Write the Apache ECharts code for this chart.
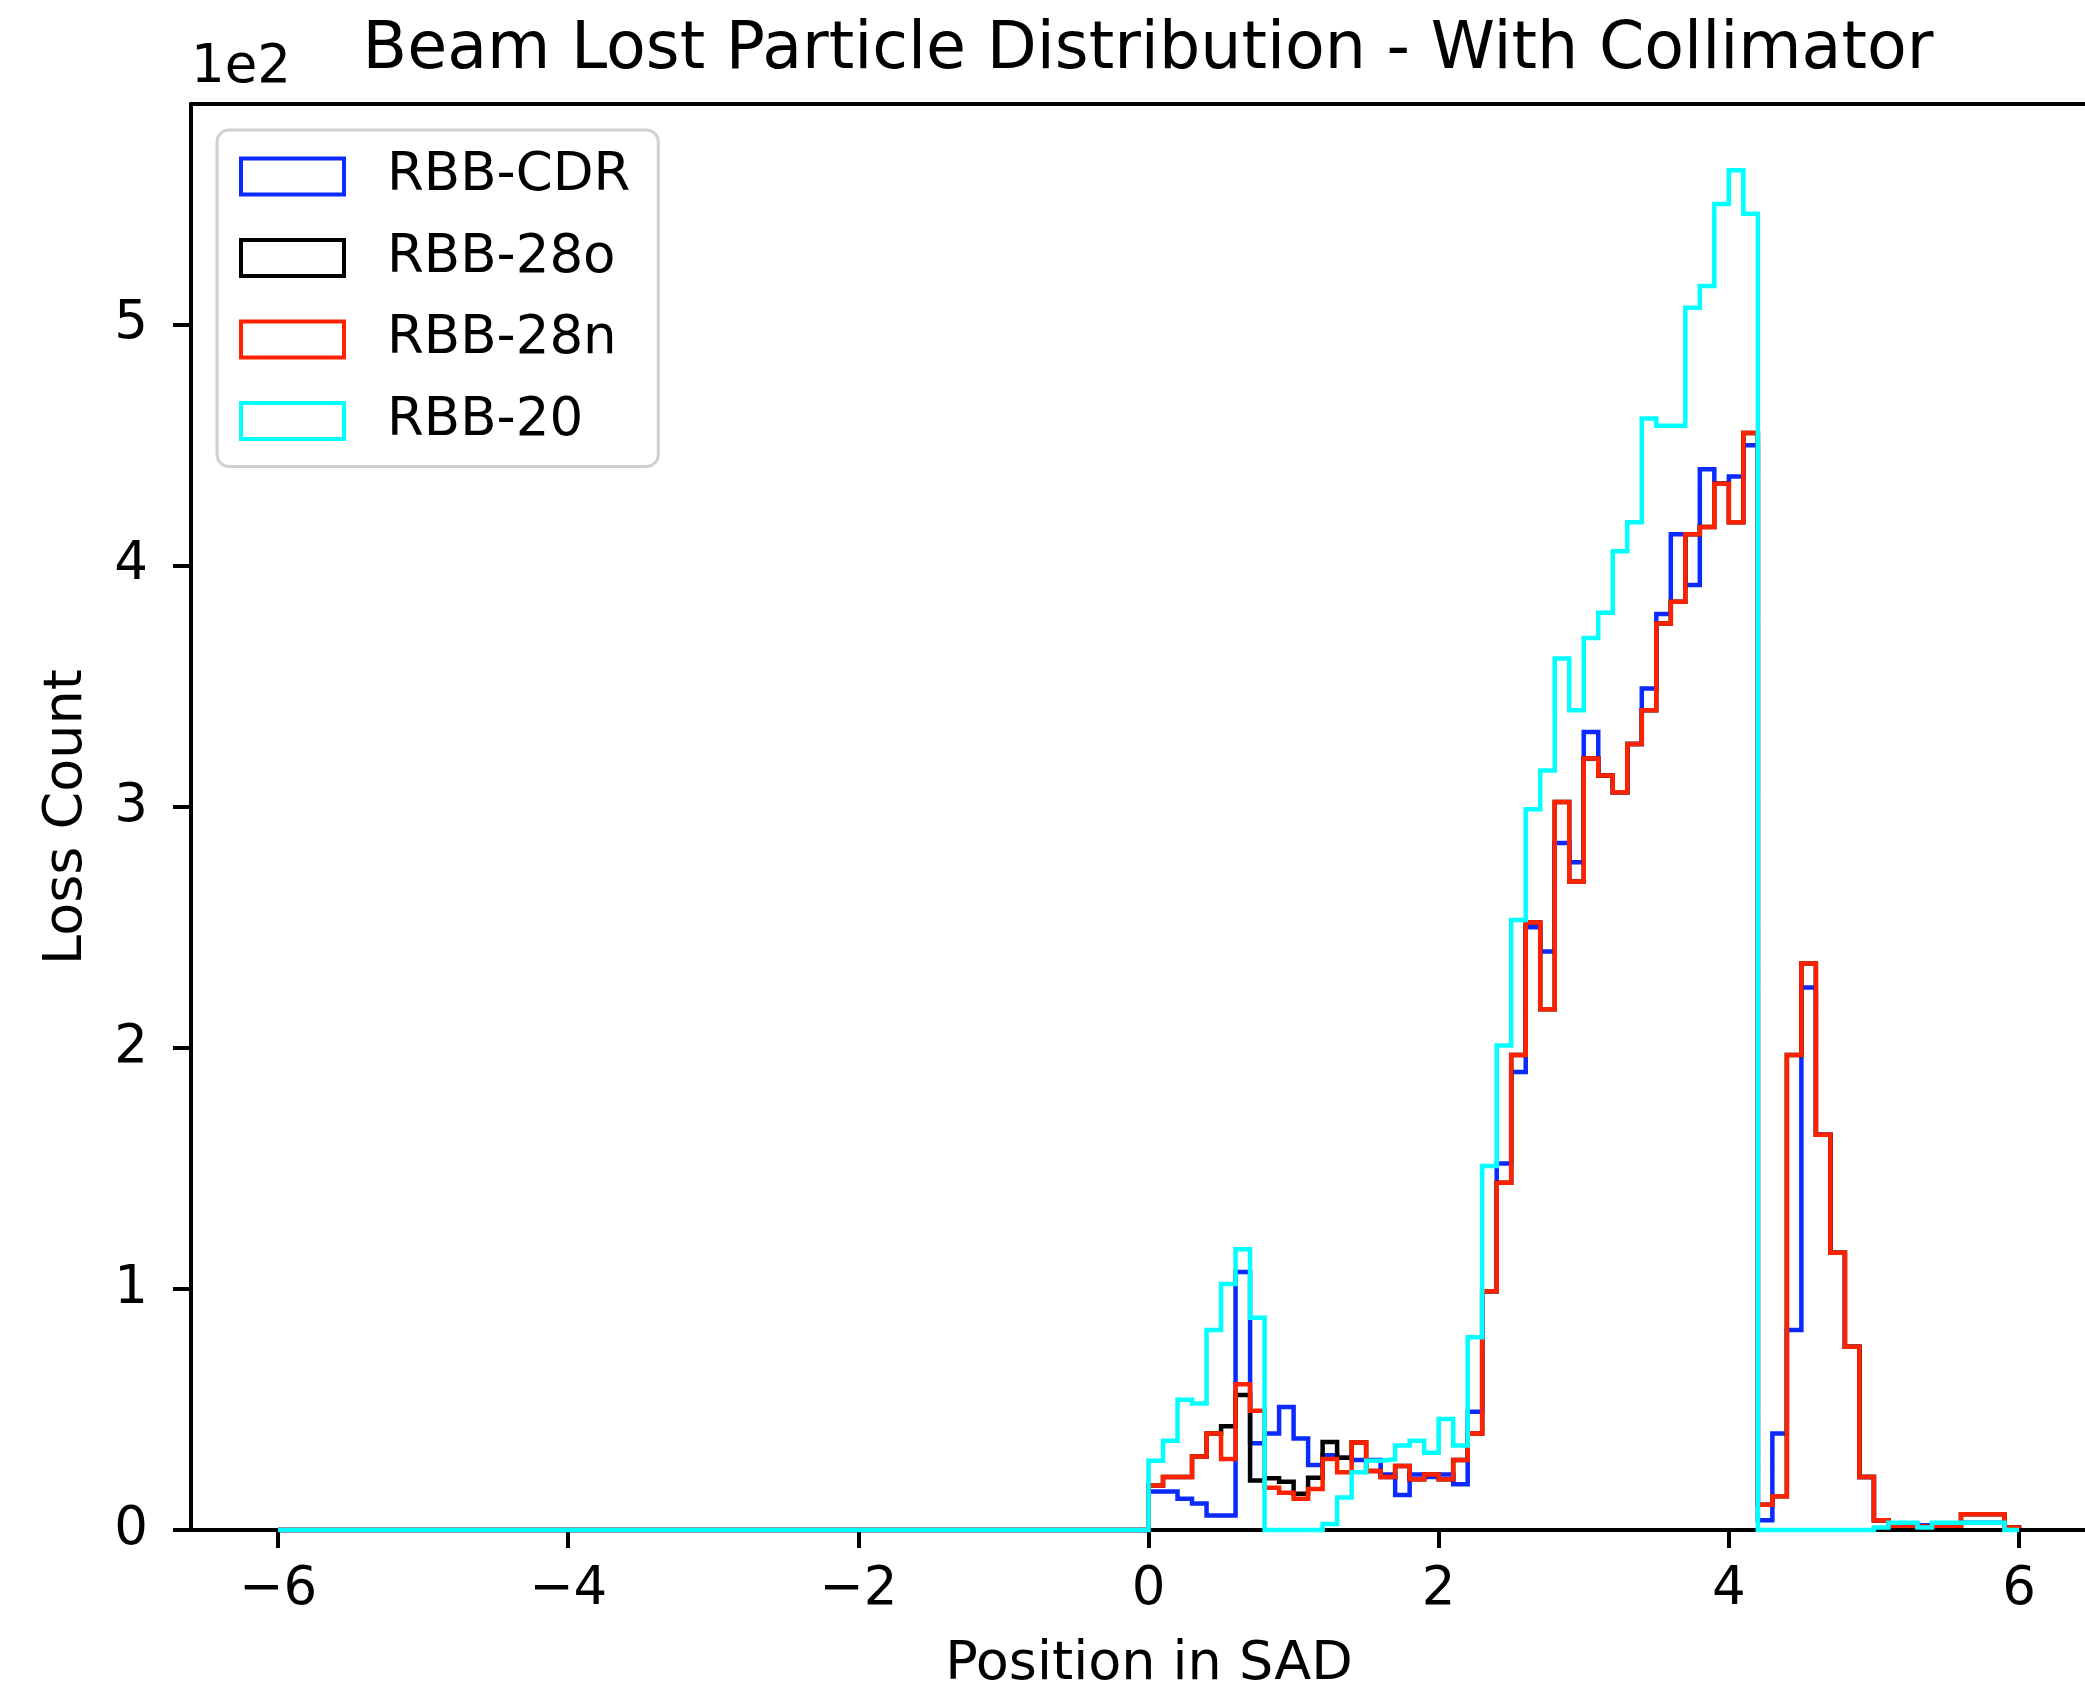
<!DOCTYPE html>
<html><head><meta charset="utf-8">
<script src="https://cdn.jsdelivr.net/npm/echarts@6/dist/echarts.min.js"></script>
<style>html,body{margin:0;padding:0;background:#fff}#chart{width:2085px;height:1693px}</style>
</head><body><div id="chart"></div>
<script>
// Histogram bins: 0.1 wide, from -6 to 6 (120 bins)
const binStart = -6;
const binWidth = 0.1;
// Bins from -6 to 0 (all series empty there)
const countsBelowZero = [0,0,0,0,0,0,0,0,0,0, 0,0,0,0,0,0,0,0,0,0, 0,0,0,0,0,0,0,0,0,0,
                         0,0,0,0,0,0,0,0,0,0, 0,0,0,0,0,0,0,0,0,0, 0,0,0,0,0,0,0,0,0,0];
// Bins from 0 to 6
const rbbCDR = [16,16,13,11,6,6,107,36,40,51, 38,27,31,30,29,29,23,14.5,23,22,
                23,19,49,99,152,190,250,240,285,277, 331,313,306,326,349,380,413,392,440,434,
                437,450,4,40,83,225,164,115,76,22, 4,2,2,2,2,2,3,3,3,1];
const rbb28o = [18.5,22,22,30.5,40,43,56,20.5,21.5,20, 15,21.7,36.5,30,36.3,24.5,22,26.5,21,23,
                21,29,40,99,144,197,252,216,302,269, 320,313,306,326,340,376,385,413,416,434,
                418,455,10.5,14,197,235,164,115,76,22, 4,1.5,1.5,1.5,1.5,1.5,6.5,6.5,6.5,1];
const rbb28n = [18.5,22,22,30.5,40,29.5,60.5,49.5,17.5,15.5, 13,17,29.5,24,36.3,24.5,22,26.5,21,23,
                21,29,40,99,144,197,252,216,302,269, 320,313,306,326,340,376,385,413,416,434,
                418,455,10.5,14,197,235,164,115,76,22, 4,1.5,1.5,1.5,1.5,1.5,6.5,6.5,6.5,1];
const rbb20  = [28.7,37,54,52.5,83,102,116.5,88,0,0, 0,0,2.5,13.5,24,28.7,29.4,35,37,32,
                46,35,80,151,201,253,299,315,361.5,340, 370,380.5,406,418,461,458,458,507,516,550,
                564,546,0,0,0,0,0,0,0,0, 1,3,3,1,3,3,3,3,3,0];
const seriesNames = ['RBB-CDR', 'RBB-28o', 'RBB-28n', 'RBB-20'];
const seriesCounts = [rbbCDR, rbb28o, rbb28n, rbb20];
const seriesColors = ['#0a2aff', '#000000', '#ff2200', '#00ffff'];
const xTickValues = [-6, -4, -2, 0, 2, 4, 6];
const yTickValues = [0, 100, 200, 300, 400, 500];
const titleText = 'Beam Lost Particle Distribution - With Collimator';
const xName = 'Position in SAD';
const yName = 'Loss Count';
const offsetText = '1e2';

function edge(i) { return Math.round((binStart + i * binWidth) * 1e6) / 1e6; }
function stepOutline(counts) {
  const all = countsBelowZero.concat(counts);
  const pts = [[edge(0), 0]];
  for (let i = 0; i < all.length; i++) {
    pts.push([edge(i), all[i]]);
    pts.push([edge(i + 1), all[i]]);
  }
  pts.push([edge(all.length), 0]);
  return pts;
}

const FONT = 'DejaVu Sans';
const chart = echarts.init(document.getElementById('chart'), null, {renderer: 'canvas'});
const axisLineStyle = {color: '#000', width: 4};
// axes: x from -6.6 (left spine) to the right canvas edge (plot is cropped on the right)
const X_MIN = -6.6, X_MAX = 6.455;

const option = {
  animation: false,
  backgroundColor: '#ffffff',
  textStyle: {fontFamily: FONT, color: '#000'},
  title: {
    text: titleText, left: 1143, top: 14, textAlign: 'center',
    textStyle: {fontFamily: FONT, fontSize: 65, fontWeight: 'normal', color: '#000'}
  },
  grid: {left: 191, top: 104, right: 0, height: 1426, containLabel: false, outerBoundsMode: 'none'},
  legend: {
    orient: 'vertical', left: 217, top: 130,
    padding: [20, 28, 19, 22],
    itemWidth: 103, itemHeight: 36, itemGap: 28.5,
    backgroundColor: 'rgba(255,255,255,0.8)', borderColor: '#d0d0d0', borderWidth: 3, borderRadius: 12,
    textStyle: {fontFamily: FONT, fontSize: 53, color: '#000', lineHeight: 53, padding: [0, 0, 0, 38]},
    data: seriesNames.map((n, i) => ({
      name: n, icon: 'rect',
      itemStyle: {color: 'rgba(255,255,255,0)', borderColor: seriesColors[i], borderWidth: 4}
    }))
  },
  xAxis: [{
    type: 'value', min: X_MIN, max: X_MAX, position: 'bottom', z: 5,
    name: xName, nameLocation: 'middle', nameGap: 108,
    nameTextStyle: {fontFamily: FONT, fontSize: 54, color: '#000', padding: [0, 0, 0, 22]},
    axisLine: {show: true, onZero: false, lineStyle: axisLineStyle},
    axisTick: {show: true, length: 18, lineStyle: {color: '#000', width: 4}, customValues: xTickValues},
    axisLabel: {show: true, margin: 34, fontFamily: FONT, fontSize: 53, color: '#000',
      customValues: xTickValues,
      formatter: v => (v < 0 ? '\u2212' + (-v) : String(v))},
    splitLine: {show: false}
  }, {
    type: 'value', min: X_MIN, max: X_MAX, position: 'top', z: 5,
    axisLine: {show: true, onZero: false, lineStyle: axisLineStyle},
    axisTick: {show: false}, axisLabel: {show: false}, splitLine: {show: false}
  }],
  yAxis: [{
    type: 'value', min: 0, max: 591.5, position: 'left', z: 5,
    name: yName, nameLocation: 'middle', nameGap: 97, nameRotate: 90,
    nameTextStyle: {fontFamily: FONT, fontSize: 54, color: '#000'},
    axisLine: {show: true, onZero: false, lineStyle: axisLineStyle},
    axisTick: {show: true, length: 18, lineStyle: {color: '#000', width: 4}, customValues: yTickValues},
    axisLabel: {show: true, margin: 43, fontFamily: FONT, fontSize: 53, color: '#000',
      customValues: yTickValues, formatter: v => String(Math.round(v / 100))},
    splitLine: {show: false}
  }],
  graphic: [{
    type: 'text', left: 191, top: 42, z: 10,
    style: {text: offsetText, fontFamily: FONT, fontSize: 53, fill: '#000'}
  }],
  series: seriesNames.map((n, i) => ({
    name: n, type: 'line', xAxisIndex: 0, yAxisIndex: 0,
    data: stepOutline(seriesCounts[i]),
    showSymbol: false, symbol: 'none', clip: false, z: 2 + i,
    lineStyle: {color: seriesColors[i], width: 4.5, join: 'miter', cap: 'butt'},
    itemStyle: {color: seriesColors[i]},
    emphasis: {disabled: true}
  }))
};
chart.setOption(option);
</script>
</body></html>
